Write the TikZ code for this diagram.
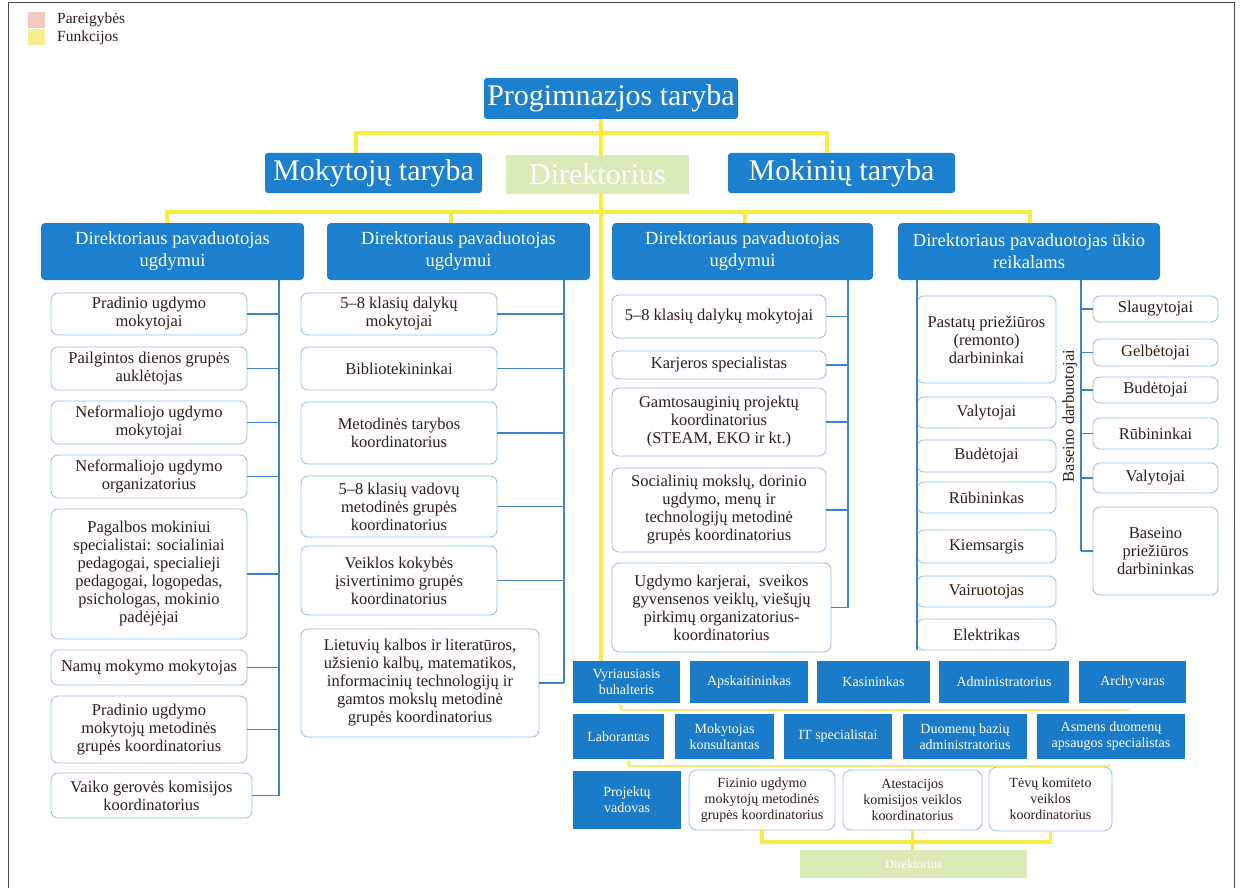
\documentclass[tikz,border=0pt]{standalone}
\usepackage{fontspec}
\setmainfont{Liberation Serif}
\usetikzlibrary{arrows.meta}
\definecolor{hdrblue}{RGB}{28,128,206}
\definecolor{botblue}{RGB}{26,124,201}
\definecolor{greenfade}{RGB}{218,234,185}
\definecolor{ylw}{RGB}{246,236,70}
\definecolor{ylwpale}{RGB}{244,236,120}
\definecolor{bord}{RGB}{150,190,230}
\definecolor{lineblue}{RGB}{60,130,205}
\definecolor{txtdark}{RGB}{45,30,30}
\definecolor{legpink}{RGB}{245,200,190}
\definecolor{legyel}{RGB}{246,240,140}
\definecolor{framegray}{RGB}{70,70,70}
\newcommand\placebox[7]{%
  \pgfmathsetmacro\myBW{#5-#3}\pgfmathsetmacro\myBH{#6-#4}%
  \pgfmathsetmacro\myBX{(#3+#5)/2}\pgfmathsetmacro\myBY{(#4+#6)/2}%
  \node[#1,minimum width=\myBW pt,minimum height=\myBH pt] (#2) at (\myBX,\myBY) {#7};}
\tikzset{
  titlebox/.style={fill=hdrblue,text=white,rounded corners=3pt,inner sep=1pt,align=center,font=\fontsize{30}{32}\selectfont},
  dirbox/.style={fill=greenfade,text=white,inner sep=1pt,align=center,font=\fontsize{30}{32}\selectfont},
  hdrbox/.style={fill=hdrblue,text=white,rounded corners=4pt,inner sep=1pt,align=center,font=\fontsize{18.5}{22}\selectfont},
  wbox/.style={draw=bord,line width=0.8pt,fill=white,text=txtdark,rounded corners=7pt,inner sep=1pt,align=center,font=\fontsize{16.5}{18}\selectfont},
  botbox/.style={fill=botblue,text=white,inner sep=1pt,align=center,font=\fontsize{14}{16}\selectfont},
  wsbox/.style={draw=bord,line width=0.8pt,fill=white,text=txtdark,rounded corners=8pt,inner sep=1pt,align=center,font=\fontsize{14}{16}\selectfont},
  greenbox/.style={fill=greenfade,text=white,inner sep=1pt,align=center,font=\fontsize{12.5}{14}\selectfont},
  bl/.style={draw=lineblue,line width=1.1pt},
  yl/.style={draw=ylw,line width=4pt},
  ylthin/.style={draw=ylwpale,line width=2pt},
  legtext/.style={anchor=west,text=txtdark,inner sep=0pt,font=\fontsize{15.5}{17}\selectfont},
}
\begin{document}
\begin{tikzpicture}[x=1pt,y=-1pt]
\useasboundingbox (0,0) rectangle (1242,888);
\fill[white] (0,0) rectangle (1242,888);
% frame
\draw[framegray,line width=1pt] (8,888) -- (8,3) -- (1234,3) -- (1234,888);
% legend
\fill[legpink] (28,12) rectangle (45,28);
\fill[legyel] (28,29) rectangle (45,45);
\node[legtext] (lg1) at (57,20) {Pareigybės};
\node[legtext] (lg2) at (57,38) {Funkcijos};

% top level
\placebox{titlebox}{pt}{484}{78}{738}{119}{Progimnazjos taryba}
\placebox{titlebox}{mt}{265}{153}{482}{193}{Mokytojų taryba}
\placebox{dirbox}{dir}{506}{155}{689}{194}{Direktorius}
\placebox{titlebox}{mk}{728}{153}{955}{193}{Mokinių taryba}

% header row
\placebox{hdrbox}{h1}{41}{223}{304}{280}{Direktoriaus pavaduotojas\\ugdymui}
\placebox{hdrbox}{h2}{327}{223}{590}{280}{Direktoriaus pavaduotojas\\ugdymui}
\placebox{hdrbox}{h3}{612}{223}{873}{280}{Direktoriaus pavaduotojas\\ugdymui}
\placebox{hdrbox}{h4}{898}{223}{1160}{280}{Direktoriaus pavaduotojas ūkio\\reikalams}

% column 1
\placebox{wbox}{c1a}{51}{293}{247}{335}{Pradinio ugdymo\\mokytojai}
\placebox{wbox}{c1b}{51}{347}{247}{390}{Pailgintos dienos grupės\\auklėtojas}
\placebox{wbox}{c1c}{51}{401}{247}{444}{Neformaliojo ugdymo\\mokytojai}
\placebox{wbox}{c1d}{51}{455}{247}{498}{Neformaliojo ugdymo\\organizatorius}
\placebox{wbox}{c1e}{51}{509}{247}{639}{Pagalbos mokiniui\\specialistai: socialiniai\\pedagogai, specialieji\\pedagogai, logopedas,\\psichologas, mokinio\\padėjėjai}
\placebox{wbox}{c1f}{51}{650}{247}{685}{Namų mokymo mokytojas}
\placebox{wbox}{c1g}{51}{696}{247}{763}{Pradinio ugdymo\\mokytojų metodinės\\grupės koordinatorius}
\placebox{wbox}{c1h}{51}{773}{252}{818}{Vaiko gerovės komisijos\\koordinatorius}

% column 2
\placebox{wbox}{c2a}{301}{293}{497}{335}{5–8 klasių dalykų\\mokytojai}
\placebox{wbox}{c2b}{301}{347}{497}{390}{Bibliotekininkai}
\placebox{wbox}{c2c}{301}{402}{497}{464}{Metodinės tarybos\\koordinatorius}
\placebox{wbox}{c2d}{301}{476}{497}{537}{5–8 klasių vadovų\\metodinės grupės\\koordinatorius}
\placebox{wbox}{c2e}{301}{546}{497}{615}{Veiklos kokybės\\įsivertinimo grupės\\koordinatorius}
\placebox{wbox}{c2f}{301}{629}{539}{737}{Lietuvių kalbos ir literatūros,\\užsienio kalbų, matematikos,\\informacinių technologijų ir\\gamtos mokslų metodinė\\grupės koordinatorius}

% column 3
\placebox{wbox}{c3a}{612}{295}{826}{338}{5–8 klasių dalykų mokytojai}
\placebox{wbox}{c3b}{612}{351}{826}{379}{Karjeros specialistas}
\placebox{wbox}{c3c}{612}{388}{826}{456}{Gamtosauginių projektų\\koordinatorius\\(STEAM, EKO ir kt.)}
\placebox{wbox}{c3d}{612}{468}{826}{552}{Socialinių mokslų, dorinio\\ugdymo, menų ir\\technologijų metodinė\\grupės koordinatorius}
\placebox{wbox}{c3e}{612}{563}{831}{652}{Ugdymo karjerai,\ \ sveikos\\gyvensenos veiklų, viešųjų\\pirkimų organizatorius-\\koordinatorius}

% column 4 left
\placebox{wbox}{c4a}{917}{296}{1056}{383}{Pastatų priežiūros\\(remonto)\\darbininkai}
\placebox{wbox}{c4b}{917}{397}{1056}{428}{Valytojai}
\placebox{wbox}{c4c}{917}{440}{1056}{472}{Budėtojai}
\placebox{wbox}{c4d}{917}{482}{1056}{513}{Rūbininkas}
\placebox{wbox}{c4e}{917}{530}{1056}{563}{Kiemsargis}
\placebox{wbox}{c4f}{917}{576}{1056}{607}{Vairuotojas}
\placebox{wbox}{c4g}{917}{619}{1056}{650}{Elektrikas}

% column 4 right
\placebox{wbox}{c5a}{1093}{296}{1218}{322}{Slaugytojai}
\placebox{wbox}{c5b}{1093}{339}{1218}{366}{Gelbėtojai}
\placebox{wbox}{c5c}{1093}{377}{1218}{403}{Budėtojai}
\placebox{wbox}{c5d}{1093}{418}{1218}{449}{Rūbininkai}
\placebox{wbox}{c5e}{1093}{463}{1218}{493}{Valytojai}
\placebox{wbox}{c5f}{1093}{507}{1218}{595}{Baseino\\priežiūros\\darbininkas}
\node[rotate=90,text=txtdark,inner sep=0pt,font=\fontsize{16.5}{18}\selectfont] (bas) at (1070,416) {Baseino darbuotojai};

% bottom rows
\placebox{botbox}{ra1}{573}{661}{680}{703}{Vyriausiasis\\buhalteris}
\placebox{botbox}{ra2}{690}{661}{808}{703}{Apskaitininkas}
\placebox{botbox}{ra3}{817}{661}{930}{703}{Kasininkas}
\placebox{botbox}{ra4}{939}{661}{1069}{703}{Administratorius}
\placebox{botbox}{ra5}{1079}{661}{1186}{703}{Archyvaras}
\placebox{botbox}{rb1}{573}{714}{664}{759}{Laborantas}
\placebox{botbox}{rb2}{675}{714}{774}{759}{Mokytojas\\konsultantas}
\placebox{botbox}{rb3}{784}{714}{892}{759}{IT specialistai}
\placebox{botbox}{rb4}{903}{714}{1027}{759}{Duomenų bazių\\administratorius}
\placebox{botbox}{rb5}{1037}{714}{1185}{759}{Asmens duomenų\\apsaugos specialistas}
\placebox{botbox}{rc1}{573}{771}{681}{829}{Projektų\\vadovas}
\placebox{wsbox}{rc2}{689}{770}{835}{830}{Fizinio ugdymo\\mokytojų metodinės\\grupės koordinatorius}
\placebox{wsbox}{rc3}{843}{770}{982}{830}{Atestacijos\\komisijos veiklos\\koordinatorius}
\placebox{wsbox}{rc4}{989}{767}{1112}{831}{Tėvų komiteto\\veiklos\\koordinatorius}
\placebox{greenbox}{g2}{800}{850}{1027}{878}{Direktorius}

% yellow connectors (top)
\coordinate (trunk) at (601,0);
\coordinate (yA) at (356,133);
\coordinate (yB) at (827,133);
\draw[yl] (trunk |- pt.south) -- (trunk |- dir.north);
\draw[yl] (yA |- mt.north) -- (yA) -- (yB) -- (yB |- mk.north);
\coordinate (d1) at (167,212);
\coordinate (d2) at (451,212);
\coordinate (d3) at (745,212);
\coordinate (d4) at (1030,212);
\draw[yl] (d1 |- h1.north) -- (d1) -- (d4) -- (d4 |- h4.north);
\draw[yl] (d2) -- (d2 |- h2.north);
\draw[yl] (d3) -- (d3 |- h3.north);
\draw[yl] (trunk |- dir.south) -- (trunk |- ra1.north);

% blue connectors
\coordinate (t1) at (279,280);
\coordinate (t2) at (564,280);
\coordinate (t3) at (848,280);
\coordinate (t4) at (917,280);
\coordinate (t5) at (1081,280);
\draw[bl] (t1) -- (t1 |- c1h.east);
\foreach \n in {c1a,c1b,c1c,c1d,c1e,c1f,c1g,c1h} \draw[bl] (\n.east) -- (\n.east -| t1);
\draw[bl] (t2) -- (t2 |- c2f.east);
\foreach \n in {c2a,c2b,c2c,c2d,c2e,c2f} \draw[bl] (\n.east) -- (\n.east -| t2);
\draw[bl] (t3) -- (t3 |- c3e.east);
\foreach \n in {c3a,c3b,c3c,c3d,c3e} \draw[bl] (\n.east) -- (\n.east -| t3);
\draw[bl] (t4) -- (t4 |- c4g.south west);
\draw[bl] (t5) -- (t5 |- c5f.west);
\foreach \n in {c5a,c5b,c5c,c5d,c5e,c5f} \draw[bl] (\n.west) -- (\n.west -| t5);

% yellow connectors (bottom)
\coordinate (ea) at (1130,710);
\coordinate (eb) at (1110,766);
\draw[ylthin,-{Latex[length=4pt,width=6pt]}] (ea) -| ([xshift=-6pt]ra1.south);
\draw[ylthin,-{Latex[length=4pt,width=6pt]}] (eb) -| ([xshift=10pt]rb1.south);
\coordinate (br) at (912,842);
\draw[yl,line width=3.5pt] (rc2.south) |- (br) -| (rc4.south);
\draw[yl,line width=3.5pt] (rc3.south) -- (rc3.south |- g2.north);
\fill[ylw] (rc3.south |- br) circle (3.5);
\end{tikzpicture}
\end{document}
